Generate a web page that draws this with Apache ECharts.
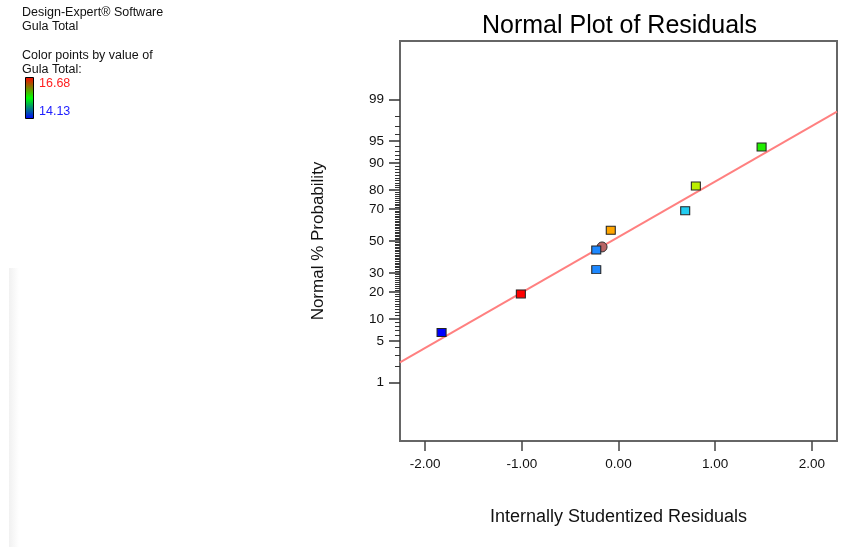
<!DOCTYPE html>
<html>
<head>
<meta charset="utf-8">
<script src="https://cdn.jsdelivr.net/npm/echarts@6/dist/echarts.min.js"></script>
<style>
  html, body { margin: 0; padding: 0; background: #fff; }
  #chart { width: 842px; height: 547px; }
</style>
</head>
<body>
<div id="chart"></div>
<script>
// residuals, with their normal % probability
const residuals = [-1.83, -1.01, -0.23, -0.23, -0.08, 0.69, 0.80, 1.48];
const probabilities = [6.6, 19.2, 31.9, 44.1, 57.0, 69.1, 81.7, 93.9];
const pointColors = ["#0000ff", "#ff0000", "#1e88ff", "#1e88ff", "#ffa500", "#22ccf0", "#bbee00", "#22ee00"];

// overlapping point drawn as a circle
const circleResidual = [-0.17];
const circleProbability = [46.1];

// fitted normal line
const fitResiduals = [-2.26, 2.26];
const fitProbabilities = [2.29, 98.33];

const xTicks = [-2, -1, 0, 1, 2];
const majorPct = [1, 5, 10, 20, 30, 50, 70, 80, 90, 95, 99];
const colorMax = "16.68";
const colorMin = "14.13";

// inverse normal CDF (Acklam)
function normInv(p) {
    const a = [-3.969683028665376e+01, 2.209460984245205e+02, -2.759285104469687e+02, 1.383577518672690e+02, -3.066479806614716e+01, 2.506628277459239e+00];
    const b = [-5.447609879822406e+01, 1.615858368580409e+02, -1.556989798598866e+02, 6.680131188771972e+01, -1.328068155288572e+01];
    const c = [-7.784894002430293e-03, -3.223964580411365e-01, -2.400758277161838e+00, -2.549732539343734e+00, 4.374664141464968e+00, 2.938163982698783e+00];
    const d = [7.784695709041462e-03, 3.224671290700398e-01, 2.445134137142996e+00, 3.754408661907416e+00];
    const pl = 0.02425;
    let q, r;
    if (p < pl) {
        q = Math.sqrt(-2 * Math.log(p));
        return (((((c[0] * q + c[1]) * q + c[2]) * q + c[3]) * q + c[4]) * q + c[5]) /
            ((((d[0] * q + d[1]) * q + d[2]) * q + d[3]) * q + 1);
    }
    if (p > 1 - pl) {
        q = Math.sqrt(-2 * Math.log(1 - p));
        return -(((((c[0] * q + c[1]) * q + c[2]) * q + c[3]) * q + c[4]) * q + c[5]) /
            ((((d[0] * q + d[1]) * q + d[2]) * q + d[3]) * q + 1);
    }
    q = p - 0.5;
    r = q * q;
    return (((((a[0] * r + a[1]) * r + a[2]) * r + a[3]) * r + a[4]) * r + a[5]) * q /
        (((((b[0] * r + b[1]) * r + b[2]) * r + b[3]) * r + b[4]) * r + 1);
}

let z = pct => normInv(pct / 100);
let zMax = normInv(0.9995);

let majorZ = majorPct.map(z);
let minorZ = [];
for (let i = 1; i <= 99; i++) {
    if (majorPct.indexOf(i) < 0) minorZ.push(z(i));
}

function pctLabel(value) {
    let best = 0;
    majorZ.forEach((v, i) => {
        if (Math.abs(v - value) < Math.abs(majorZ[best] - value)) best = i;
    });
    return String(majorPct[best]);
}

let font = "'Liberation Sans', Arial, sans-serif";

let squares = residuals.map((r, i) => ({
    value: [r, z(probabilities[i])],
    itemStyle: { color: pointColors[i] }
}));

let chartDom = document.getElementById("chart");
let myChart = echarts.init(chartDom);

let option = {
    animation: false,
    backgroundColor: "#fff",
    title: {
        text: "Normal Plot of Residuals",
        left: 477,
        top: 9,
        textStyle: { fontFamily: font, fontSize: 25, fontWeight: "normal", color: "#000" }
    },
    grid: {
        left: 400,
        top: 41,
        width: 437,
        height: 400,
        show: true,
        borderColor: "#666",
        borderWidth: 2,
        backgroundColor: "#fff"
    },
    xAxis: {
        type: "value",
        min: -2.26,
        max: 2.26,
        name: "Internally Studentized Residuals",
        nameLocation: "middle",
        nameGap: 67,
        nameTextStyle: { fontFamily: font, fontSize: 18, color: "#111" },
        axisLine: { show: false, onZero: false },
        splitLine: { show: false },
        axisTick: {
            customValues: xTicks,
            length: 10,
            lineStyle: { color: "#444", width: 1.5 }
        },
        axisLabel: {
            customValues: xTicks,
            margin: 16,
            fontFamily: font,
            fontSize: 13.5,
            color: "#111",
            formatter: v => v.toFixed(2)
        }
    },
    yAxis: [
        {
            type: "value",
            min: -zMax,
            max: zMax,
            name: "Normal % Probability",
            nameLocation: "middle",
            nameGap: 73,
            nameTextStyle: { fontFamily: font, fontSize: 17, color: "#111" },
            axisLine: { show: false, onZero: false },
            splitLine: { show: false },
            axisTick: {
                customValues: majorZ,
                length: 11,
                lineStyle: { color: "#333", width: 1.5 }
            },
            axisLabel: {
                customValues: majorZ,
                margin: 16,
                fontFamily: font,
                fontSize: 13.5,
                color: "#111",
                formatter: pctLabel
            }
        },
        {
            type: "value",
            position: "left",
            min: -zMax,
            max: zMax,
            axisLine: { show: false, onZero: false },
            splitLine: { show: false },
            axisLabel: { show: false },
            axisTick: {
                customValues: minorZ,
                length: 5,
                lineStyle: { color: "#333", width: 1 }
            }
        }
    ],
    graphic: [
        {
            type: "rect",
            shape: { x: 9, y: 268, width: 10, height: 279 },
            style: {
                fill: new echarts.graphic.LinearGradient(0, 0, 1, 0, [
                    { offset: 0, color: "#f1f1f1" },
                    { offset: 1, color: "#ffffff" }
                ])
            },
            silent: true
        },
        {
            type: "text",
            left: 22,
            top: 6,
            style: {
                text: "Design-Expert® Software\nGula Total",
                font: "12.5px " + font,
                fill: "#111",
                lineHeight: 14
            }
        },
        {
            type: "text",
            left: 22,
            top: 49,
            style: {
                text: "Color points by value of\nGula Total:",
                font: "12.5px " + font,
                fill: "#111",
                lineHeight: 14
            }
        },
        {
            type: "rect",
            shape: { x: 25.5, y: 77.5, width: 8, height: 41 },
            style: {
                fill: new echarts.graphic.LinearGradient(0, 0, 0, 1, [
                    { offset: 0, color: "#ff0000" },
                    { offset: 0.5, color: "#00ff00" },
                    { offset: 1, color: "#0000ff" }
                ]),
                stroke: "#000",
                lineWidth: 1
            }
        },
        {
            type: "text",
            left: 39,
            top: 77,
            style: { text: colorMax, font: "12.5px " + font, fill: "#ff2020" }
        },
        {
            type: "text",
            left: 39,
            top: 105,
            style: { text: colorMin, font: "12.5px " + font, fill: "#2020ff" }
        }
    ],
    series: [
        {
            type: "line",
            data: fitResiduals.map((r, i) => [r, z(fitProbabilities[i])]),
            symbol: "none",
            lineStyle: { color: "#ff8080", width: 2 },
            silent: true,
            z: 2
        },
        {
            type: "scatter",
            data: circleResidual.map((r, i) => [r, z(circleProbability[i])]),
            symbol: "circle",
            symbolSize: 10,
            itemStyle: { color: "#b86464", borderColor: "#333", borderWidth: 1, opacity: 1 },
            z: 3
        },
        {
            type: "scatter",
            data: squares,
            symbol: "rect",
            symbolSize: [9, 8],
            itemStyle: { borderColor: "#222", borderWidth: 1, opacity: 1 },
            z: 4
        }
    ]
};

option && myChart.setOption(option);
</script>
</body>
</html>
